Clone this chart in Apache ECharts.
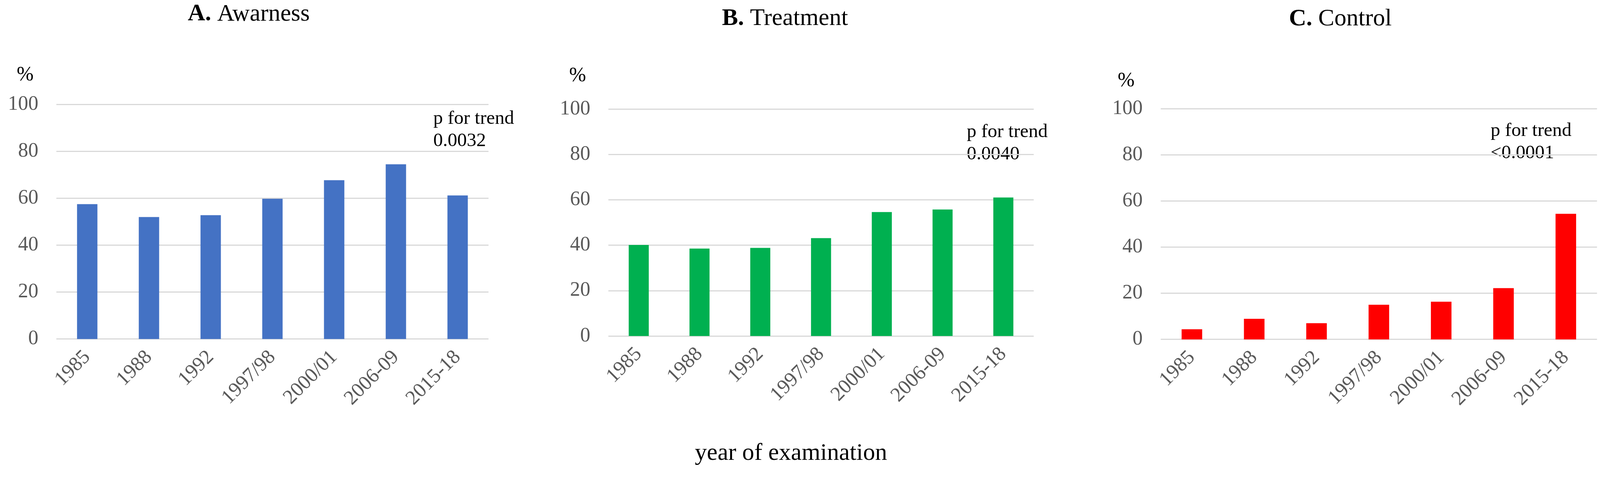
<!DOCTYPE html>
<html>
<head>
<meta charset="utf-8">
<script src="https://cdn.jsdelivr.net/npm/echarts@6/dist/echarts.min.js"></script>
<style>
html,body{margin:0;padding:0;background:#fff;overflow:hidden;}
#chart{width:100vw;height:100vh;}
</style>
</head>
<body>
<div id="chart"></div>
<script>
// ---- data ----
const categories = ['1985', '1988', '1992', '1997/98', '2000/01', '2006-09', '2015-18'];
const awareness = [57.5, 52.0, 52.8, 59.8, 67.7, 74.5, 61.2];
const treatment = [40.1, 38.5, 38.8, 43.1, 54.6, 55.7, 61.0];
const control = [4.4, 8.9, 7.0, 15.0, 16.3, 22.2, 54.4];
const yMin = 0, yMax = 100, yStep = 20;
const panelLetters = ['A.', 'B.', 'C.'];
const panelNames = ['Awarness', 'Treatment', 'Control'];
const pLabel = 'p for trend';
const pTrend = ['0.0032', '0.0040', '<0.0001'];
const yUnit = '%';
const xTitle = 'year of examination';

// ---- layout (designed for 4258 x 1267, scaled uniformly to the real viewport width) ----
const el = document.getElementById('chart');
const W = el.clientWidth || window.innerWidth || 4258;
const H = el.clientHeight || window.innerHeight || 1267;
const s = W / 4258;
const X = v => v * s, Y = v => v * s, S = v => v * s;

const FONT = '"Liberation Serif", "Times New Roman", serif';
const grids = [
  {left: 150, top: 278, width: 1150, height: 624},
  {left: 1619, top: 290, width: 1132, height: 604},
  {left: 3089, top: 289, width: 1161, height: 614}
];
const colors = ['#4472C4', '#00B050', '#FF0000'];
const seriesData = [awareness, treatment, control];
const titlePos = [[662, 38], [2089, 50], [3567, 51]];
const pctPos = [[67, 200], [1537, 202], [2997, 216]];
const pPos = [[1153, 287], [2573, 322], [3967, 319]];

const chart = echarts.init(el, null, {renderer: 'canvas', width: W, height: H});

const option = {
  backgroundColor: '#fff',
  animation: false,
  grid: grids.map(g => ({left: X(g.left), top: Y(g.top), width: X(g.width), height: Y(g.height), containLabel: false})),
  xAxis: grids.map((g, i) => ({
    type: 'category',
    gridIndex: i,
    data: categories,
    axisLine: {show: false},
    axisTick: {show: false},
    axisLabel: {
      interval: 0, rotate: 45, margin: S(40),
      fontFamily: FONT, fontSize: S(54), color: '#595959'
    }
  })),
  yAxis: grids.map((g, i) => ({
    type: 'value',
    gridIndex: i,
    min: yMin, max: yMax, interval: yStep,
    axisLine: {show: false},
    axisTick: {show: false},
    axisLabel: {margin: S(48), fontFamily: FONT, fontSize: S(54), color: '#595959'},
    splitLine: {show: true, lineStyle: {color: '#D9D9D9', width: S(3)}}
  })),
  series: seriesData.map((d, i) => ({
    type: 'bar',
    xAxisIndex: i,
    yAxisIndex: i,
    data: d,
    barWidth: '33%',
    itemStyle: {color: colors[i]}
  })),
  graphic: {
    elements: [].concat(
      panelNames.map((name, i) => ({
        type: 'text',
        x: X(titlePos[i][0]), y: Y(titlePos[i][1]),
        style: {
          text: '{b|' + panelLetters[i] + '} ' + name,
          fontFamily: FONT, fontSize: S(64), fill: '#000',
          align: 'center', verticalAlign: 'middle',
          textAlign: 'center', textVerticalAlign: 'middle',
          rich: {b: {fontFamily: FONT, fontSize: S(64), fontWeight: 'bold', fill: '#000'}}
        }
      })),
      pctPos.map(p => ({
        type: 'text',
        x: X(p[0]), y: Y(p[1]),
        style: {
          text: yUnit, fontFamily: FONT, fontSize: S(54), fill: '#000',
          align: 'center', verticalAlign: 'middle',
          textAlign: 'center', textVerticalAlign: 'middle'
        }
      })),
      pTrend.map((v, i) => ({
        type: 'text',
        x: X(pPos[i][0]), y: Y(pPos[i][1]),
        style: {
          text: pLabel + '\n' + v, fontFamily: FONT, fontSize: S(51), lineHeight: S(59), fill: '#000',
          align: 'left', verticalAlign: 'top',
          textAlign: 'left', textVerticalAlign: 'top'
        }
      })),
      [{
        type: 'text',
        x: X(2105), y: Y(1207),
        style: {
          text: xTitle, fontFamily: FONT, fontSize: S(64), fill: '#000',
          align: 'center', verticalAlign: 'middle',
          textAlign: 'center', textVerticalAlign: 'middle'
        }
      }]
    )
  }
};
chart.setOption(option);
</script>
</body>
</html>
